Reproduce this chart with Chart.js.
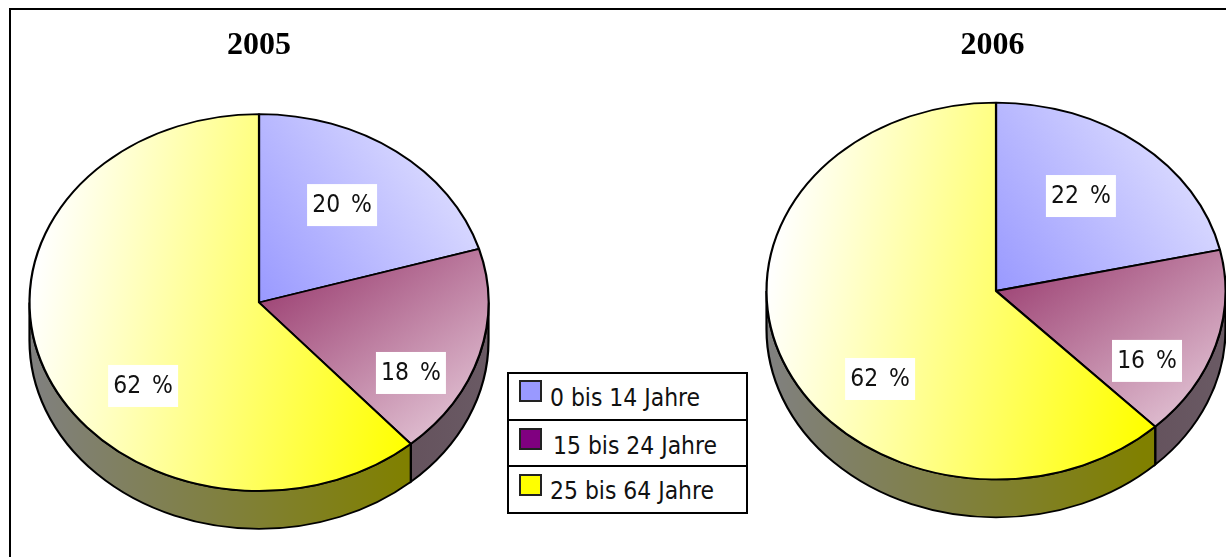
<!DOCTYPE html>
<html>
<head>
<meta charset="utf-8">
<script src="https://cdn.jsdelivr.net/npm/chart.js@4"></script>
<style>
html,body{margin:0;padding:0;background:#fff;width:1226px;height:557px;overflow:hidden}
#frame{position:absolute;left:9px;top:8px;right:-10px;bottom:-10px;border:2px solid #000}
canvas{position:absolute;top:0}
#legend{position:absolute;left:507px;top:372px;width:237px;height:138px;border:2px solid #000;background:#fff;z-index:5;font-family:"DejaVu Sans Condensed","DejaVu Sans";font-size:24.4px;color:#111}
.row{position:absolute;left:0;right:0;height:46px}
.row+.row{border-top:2px solid #000}
.sw{position:absolute;left:10px;width:19px;height:18px;border:2px solid #222}
.tx{position:absolute;white-space:nowrap;line-height:26px}
</style>
</head>
<body>
<div id="frame"></div>
<canvas id="c1" width="518" height="557" style="left:0"></canvas>
<canvas id="c2" width="467" height="557" style="left:759px"></canvas>
<div id="legend"></div>
<script>
const categories = ["0 bis 14 Jahre", "15 bis 24 Jahre", "25 bis 64 Jahre"];
const years = ["2005", "2006"];
const values2005 = [20.4, 18.1, 61.5];
const values2006 = [21.5, 16.3, 62.2];
const legendColors = ["#9999ff", "#800080", "#ffff00"];

function faceGradient(ctx, a, i) {
  const r = a.outerRadius, x = a.x, y = a.y;
  const pts = [[x, y, x + .95 * r, y - .55 * r], [x, y, x + .65 * r, y + .75 * r], [x - r, y, x + .72 * r, y + .25 * r]][i];
  const stops = [["#9999ff", "#dcdcff"], ["#a04878", "#dcb8cc"], ["#ffffff", "#ffff00"]][i];
  const g = ctx.createLinearGradient(pts[0], pts[1], pts[2], pts[3]);
  g.addColorStop(0, stops[0]); g.addColorStop(1, stops[1]);
  return g;
}
function sideGradient(ctx, a, i) {
  const g = ctx.createLinearGradient(a.x - a.outerRadius, 0, a.x + a.outerRadius, 0);
  if (i === 1) { g.addColorStop(0.5, "#5a4450"); g.addColorStop(1, "#6a5a64"); }
  else { g.addColorStop(0, "#808080"); g.addColorStop(.82, "#808000"); }
  return g;
}
const FLAT = .821, DEPTH = 38;
const pie3d = {
  id: "pie3d",
  beforeDatasetsDraw(chart, args, o) {
    const ctx = chart.ctx, arcs = chart.getDatasetMeta(0).data;
    const a0 = arcs[0];
    ctx.save();
    ctx.translate(o.cx, o.cy); ctx.scale(1, FLAT); ctx.translate(-a0.x, -a0.y);
    // side wall of each slice, in the same flattened space
    arcs.forEach((a, i) => {
      a.options.backgroundColor = faceGradient(ctx, a, i);
      const s = Math.max(a.startAngle, 0), e = Math.min(a.endAngle, Math.PI);
      if (e <= s) return;
      const d = DEPTH / FLAT;
      ctx.beginPath();
      ctx.arc(a.x, a.y, a.outerRadius, s, e);
      ctx.arc(a.x, a.y + d, a.outerRadius, e, s, true);
      ctx.closePath();
      ctx.fillStyle = sideGradient(ctx, a, i);
      ctx.fill();
      ctx.lineWidth = 2.2; ctx.strokeStyle = "#000"; ctx.stroke();
    });
  },
  afterDatasetsDraw(chart, args, o) {
    const ctx = chart.ctx, arcs = chart.getDatasetMeta(0).data;
    const vals = chart.data.datasets[0].data;
    ctx.restore();
    ctx.save();
    ctx.font = o.font; ctx.textAlign = "center"; ctx.textBaseline = "middle";
    ctx.wordSpacing = "4px";
    arcs.forEach((a, i) => {
      const x = o.cx + o.anchors[i][0] * a.outerRadius;
      const y = o.cy + o.anchors[i][1] * a.outerRadius * FLAT;
      ctx.fillStyle = "#fff"; ctx.fillRect(x - 35, y - 21, 70, 42);
      ctx.fillStyle = "#111"; ctx.fillText(Math.round(vals[i]) + " %", x, y + 1);
    });
    ctx.restore();
  }
};
function makePie(id, title, values, cx, cy, anchors) {
  return new Chart(document.getElementById(id), {
    type: "pie",
    data: { labels: categories, datasets: [{
      data: values, clip: false, borderColor: "#000", borderWidth: 2.2,
      backgroundColor: legendColors
    }]},
    options: {
      responsive: false, animation: false, radius: 229.5,
      events: [],
      plugins: {
        legend: { display: false }, tooltip: { enabled: false },
        title: { display: true, text: title, color: "#000",
          font: { family: "Liberation Serif", size: 32, weight: "bold" },
          padding: { top: 27, bottom: 0 } },
        pie3d: { cx, cy, anchors, font: '24.4px "DejaVu Sans Condensed", "DejaVu Sans"' }
      }
    },
    plugins: [pie3d]
  });
}
makePie("c1", years[0], values2005, 259, 302.5, [[.362, -.517], [.662, .374], [-.505, .443]]);
makePie("c2", years[1], values2006, 237, 291, [[.370, -.504], [.658, .371], [-.505, .467]]);

const lg = document.getElementById("legend");
const rowTop = [0, 45, 91], swTop = [8, 9, 9], txTop = [11, 12, 11], txLeft = [41, 44, 41];
categories.forEach((c, i) => {
  const r = document.createElement("div"); r.className = "row"; r.style.top = rowTop[i] + "px";
  const s = document.createElement("div"); s.className = "sw"; s.style.top = swTop[i] - 2 + "px"; s.style.background = legendColors[i];
  const t = document.createElement("div"); t.className = "tx"; t.textContent = c; t.style.left = txLeft[i] + "px"; t.style.top = txTop[i] + "px";
  r.append(s, t); lg.append(r);
});
</script>
</body>
</html>
